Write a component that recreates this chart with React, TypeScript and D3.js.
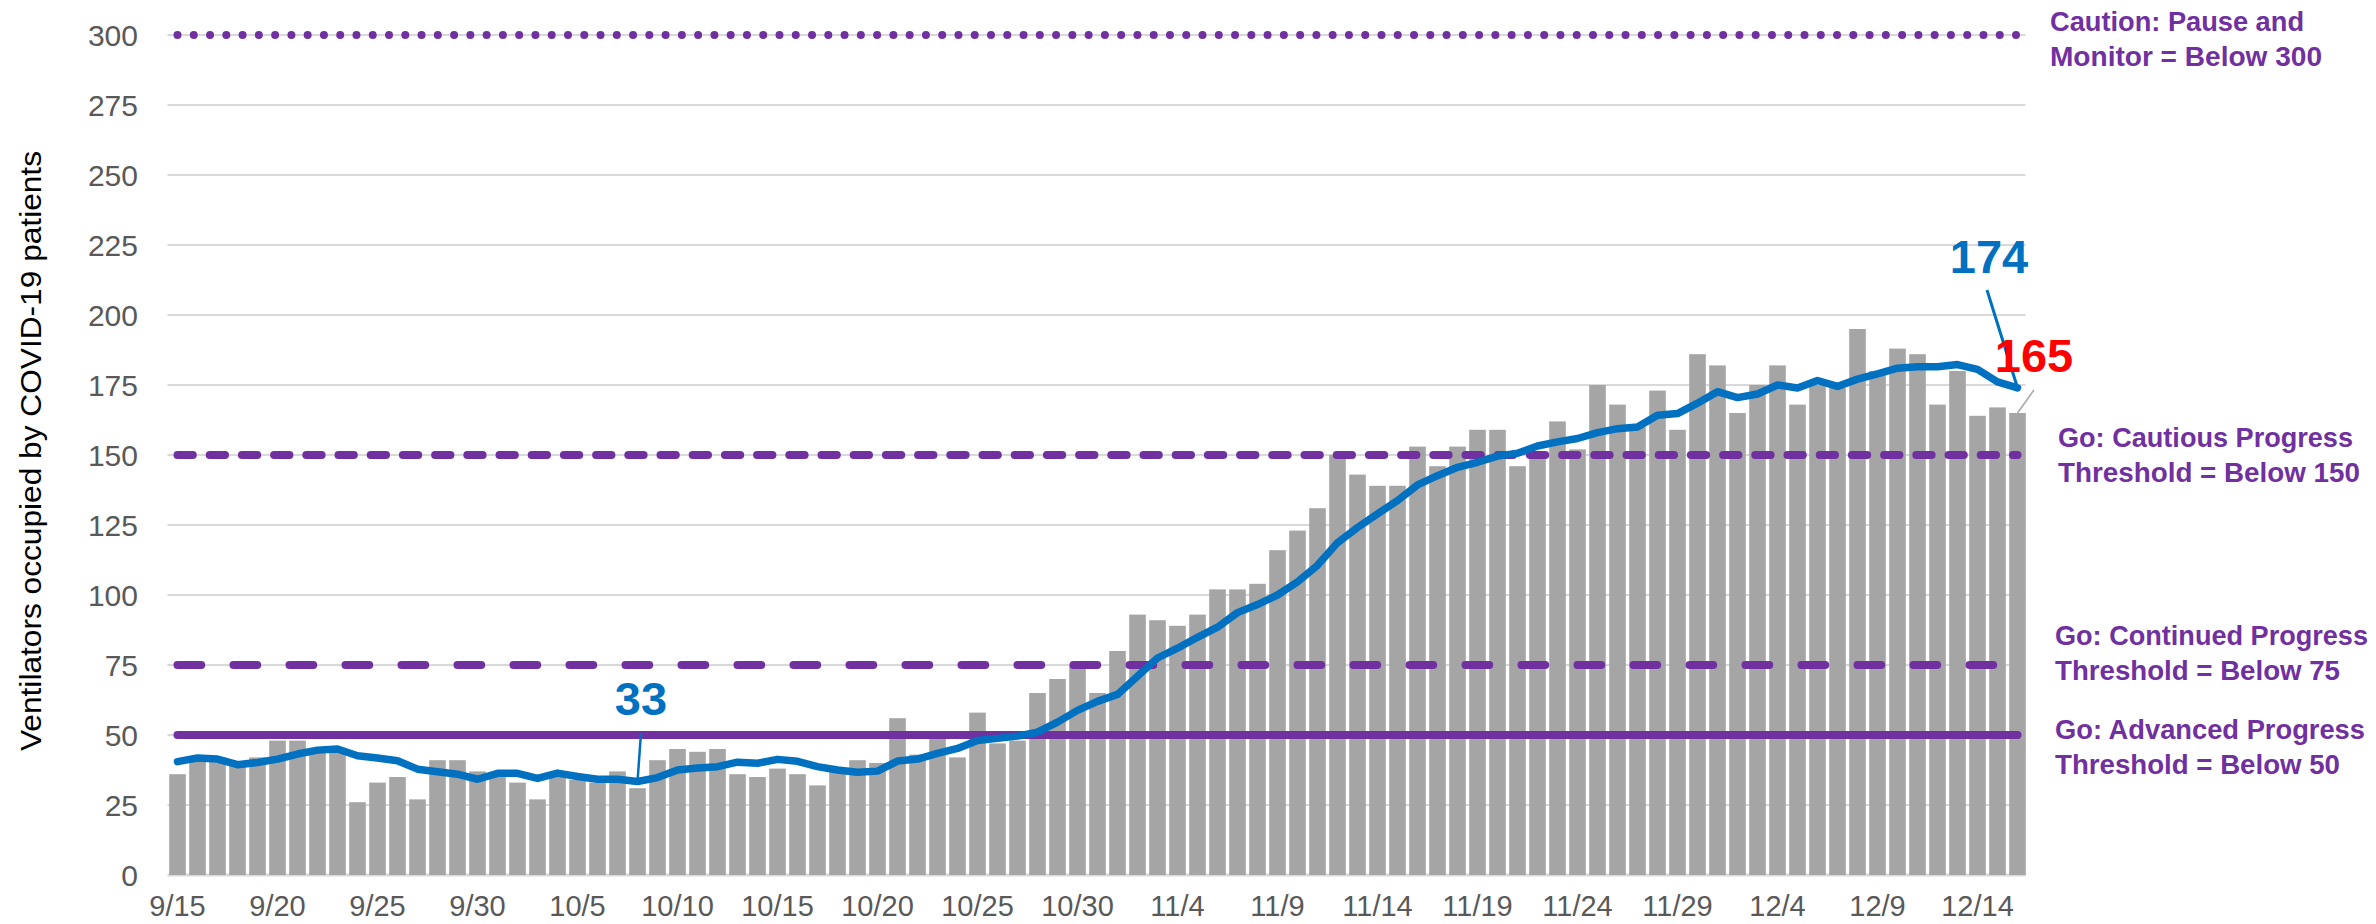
import { useEffect, useRef } from 'react';
import * as d3 from 'd3';

// daily ventilators in use, 9/15 - 12/16
const ventilators = [
  36, 41, 42, 39, 42, 48, 48, 44, 45, 26, 33, 35, 27, 41, 41, 37, 36, 33, 27, 35,
  34, 33, 37, 31, 41, 45, 44, 45, 36, 35, 38, 36, 32, 37, 41, 40, 56, 43, 49, 42,
  58, 47, 48, 65, 70, 75, 65, 80, 93, 91, 89, 93, 102, 102, 104, 116, 123, 131, 150, 143,
  139, 139, 153, 146, 153, 159, 159, 146, 151, 162, 152, 175, 168, 160, 173, 159, 186, 182, 165, 175,
  182, 168, 175, 174, 195, 180, 188, 186, 168, 180, 164, 167, 165,
];

// 7-day average
const movingAvg = [
  40.5, 41.8, 41.4, 39.4, 40.2, 41.4, 43.2, 44.6, 45.0, 42.6, 41.8, 40.8, 37.8, 36.9, 36.0, 34.2, 36.3, 36.3, 34.5, 36.4,
  35.2, 34.2, 34.2, 33.4, 34.8, 37.5, 38.2, 38.7, 40.3, 39.9, 41.3, 40.6, 38.7, 37.5, 36.7, 37.1, 40.7, 41.4, 43.4, 45.2,
  48.0, 48.8, 49.6, 51.0, 54.6, 58.8, 62.0, 64.5, 71.0, 77.5, 81.0, 84.9, 88.5, 93.7, 96.6, 100.0, 104.7, 110.6, 118.7, 124.1,
  129.0, 133.7, 139.3, 142.6, 145.6, 147.4, 149.6, 150.6, 153.2, 154.7, 155.9, 158.0, 159.4, 160.0, 164.2, 164.8, 168.5, 172.6, 170.5, 171.8,
  175.0, 173.9, 176.6, 174.5, 177.1, 179.0, 181.0, 181.5, 181.5, 182.3, 180.6, 176.1, 174.0,
];

const tickLabels = [
  '9/15', '9/20', '9/25', '9/30', '10/5', '10/10', '10/15', '10/20', '10/25', '10/30',
  '11/4', '11/9', '11/14', '11/19', '11/24', '11/29', '12/4', '12/9', '12/14',
];

const yTicks = [0, 25, 50, 75, 100, 125, 150, 175, 200, 225, 250, 275, 300];

const thresholdValues = [300, 150, 75, 50];
const thresholdLabels = [
  ['Caution: Pause and', 'Monitor = Below 300'],
  ['Go: Cautious Progress', 'Threshold = Below 150'],
  ['Go: Continued Progress', 'Threshold = Below 75'],
  ['Go: Advanced Progress', 'Threshold = Below 50'],
];

const days = d3.timeDay.range(new Date(2020, 8, 15), new Date(2020, 11, 17));
const fmt = d3.timeFormat('%-m/%-d');
const dateLabels = days.map(fmt);

const PURPLE = '#7030A0';
const BLUE = '#0070C0';

const App = () => {
  const svgRef = useRef(null);

  useEffect(() => {
    const svg = d3.select(svgRef.current);
    svg.selectAll('*').remove();

    const left = 167.5;
    const right = 2027.5;

    const x = d3
      .scaleBand()
      .domain(dateLabels)
      .range([left, right])
      .paddingInner(0.17)
      .paddingOuter(0.085);
    const cx = (d: string) => x(d)! + x.bandwidth() / 2;

    const y = d3.scaleLinear().domain([0, 300]).range([875, 35]);

    // gridlines
    svg
      .append('g')
      .selectAll('line')
      .data(yTicks)
      .enter()
      .append('line')
      .attr('x1', left)
      .attr('x2', right - 2)
      .attr('y1', (d) => y(d))
      .attr('y2', (d) => y(d))
      .attr('stroke', '#D9D9D9')
      .attr('stroke-width', (d) => (d === 0 ? 3 : 2));

    // y tick labels
    svg
      .append('g')
      .selectAll('text')
      .data(yTicks)
      .enter()
      .append('text')
      .attr('x', 138)
      .attr('y', (d) => y(d))
      .attr('dy', '0.36em')
      .attr('text-anchor', 'end')
      .attr('fill', '#595959')
      .attr('font-size', 30)
      .attr('font-family', 'Liberation Sans, Arial, sans-serif')
      .text((d) => d);

    // x tick labels
    svg
      .append('g')
      .selectAll('text')
      .data(tickLabels)
      .enter()
      .append('text')
      .attr('x', (d) => cx(d))
      .attr('y', 916)
      .attr('text-anchor', 'middle')
      .attr('fill', '#595959')
      .attr('font-size', 29)
      .attr('font-family', 'Liberation Sans, Arial, sans-serif')
      .text((d) => d);

    // axis title
    svg
      .append('text')
      .attr('transform', 'translate(41,451) rotate(-90)')
      .attr('text-anchor', 'middle')
      .attr('fill', '#000')
      .attr('font-size', 29)
      .attr('font-family', 'Liberation Sans, Arial, sans-serif')
      .attr('textLength', 600)
      .attr('lengthAdjust', 'spacingAndGlyphs')
      .text('Ventilators occupied by COVID-19 patients');

    // bars
    svg
      .append('g')
      .selectAll('rect')
      .data(ventilators)
      .enter()
      .append('rect')
      .attr('x', (_, i) => x(dateLabels[i])!)
      .attr('y', (d) => y(d))
      .attr('width', x.bandwidth())
      .attr('height', (d) => y(0) - y(d))
      .attr('fill', '#A5A5A5');

    // threshold lines
    const dashes = ['0 16.27', '15.3 16.9', '23.7 32.3', null];
    const x0 = cx(dateLabels[0]);
    const x1 = cx(dateLabels[dateLabels.length - 1]);
    thresholdValues.forEach((v, i) => {
      const ln = svg
        .append('line')
        .attr('x1', x0)
        .attr('x2', x1)
        .attr('y1', y(v))
        .attr('y2', y(v))
        .attr('stroke', PURPLE)
        .attr('stroke-width', 8)
        .attr('stroke-linecap', 'round');
      if (dashes[i]) ln.attr('stroke-dasharray', dashes[i]);
    });

    // moving average line
    const line = d3
      .line<number>()
      .x((_, i) => cx(dateLabels[i]))
      .y((d) => y(d));
    svg
      .append('path')
      .datum(movingAvg)
      .attr('d', line)
      .attr('fill', 'none')
      .attr('stroke', BLUE)
      .attr('stroke-width', 7.5)
      .attr('stroke-linejoin', 'round')
      .attr('stroke-linecap', 'round');

    // threshold labels on the right
    const labelPos = [
      { x: 2050, y: 31, w: [254, 272] },
      { x: 2058, y: 447, w: [295, 302] },
      { x: 2055, y: 645, w: [313, 285] },
      { x: 2055, y: 739, w: [310, 285] },
    ];
    thresholdLabels.forEach((lines, i) => {
      lines.forEach((t, j) => {
        svg
          .append('text')
          .attr('x', labelPos[i].x)
          .attr('y', labelPos[i].y + j * 35)
          .attr('fill', PURPLE)
          .attr('font-size', 27)
          .attr('font-weight', 'bold')
          .attr('font-family', 'Liberation Sans, Arial, sans-serif')
          .attr('textLength', labelPos[i].w[j])
          .attr('lengthAdjust', 'spacingAndGlyphs')
          .text(t);
      });
    });

    // callouts
    const minIdx = 23;
    const lastIdx = movingAvg.length - 1;
    const lastAvg = movingAvg[lastIdx];
    const lastVal = ventilators[lastIdx];

    svg
      .append('line')
      .attr('x1', 641)
      .attr('y1', 733)
      .attr('x2', cx(dateLabels[minIdx]))
      .attr('y2', y(movingAvg[minIdx]))
      .attr('stroke', BLUE)
      .attr('stroke-width', 2.5);
    svg
      .append('text')
      .attr('x', 641)
      .attr('y', 715)
      .attr('text-anchor', 'middle')
      .attr('fill', BLUE)
      .attr('font-size', 47)
      .attr('font-weight', 'bold')
      .attr('font-family', 'Liberation Sans, Arial, sans-serif')
      .text(Math.round(movingAvg[minIdx]));

    svg
      .append('line')
      .attr('x1', 1987)
      .attr('y1', 290)
      .attr('x2', cx(dateLabels[lastIdx]))
      .attr('y2', y(lastAvg))
      .attr('stroke', BLUE)
      .attr('stroke-width', 3);
    svg
      .append('text')
      .attr('x', 1989)
      .attr('y', 273)
      .attr('text-anchor', 'middle')
      .attr('fill', BLUE)
      .attr('font-size', 47)
      .attr('font-weight', 'bold')
      .attr('font-family', 'Liberation Sans, Arial, sans-serif')
      .text(Math.round(lastAvg));

    svg
      .append('line')
      .attr('x1', cx(dateLabels[lastIdx]))
      .attr('y1', y(lastVal))
      .attr('x2', 2034)
      .attr('y2', 390)
      .attr('stroke', '#A6A6A6')
      .attr('stroke-width', 1.5);
    svg
      .append('text')
      .attr('x', 2034)
      .attr('y', 372)
      .attr('text-anchor', 'middle')
      .attr('fill', '#FF0000')
      .attr('font-size', 47)
      .attr('font-weight', 'bold')
      .attr('font-family', 'Liberation Sans, Arial, sans-serif')
      .text(lastVal);
  }, []);

  return (
    <svg
      ref={svgRef}
      width={2376}
      height={924}
      style={{ position: 'absolute', left: 0, top: 0, display: 'block', background: '#fff' }}
    ></svg>
  );
};

export default App;
